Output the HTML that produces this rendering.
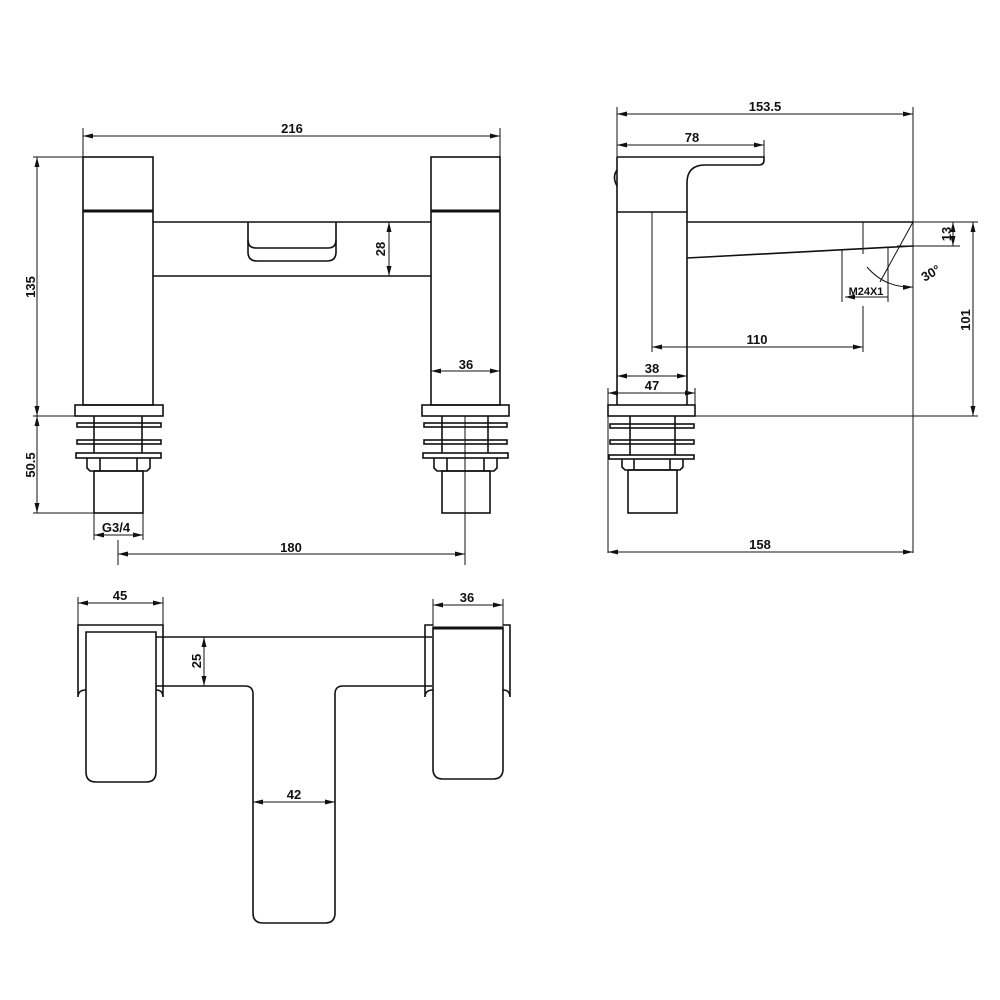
<!DOCTYPE html>
<html><head><style>html,body{margin:0;padding:0;background:#fff}svg{display:block}</style></head>
<body>
<svg width="1000" height="1000" viewBox="0 0 1000 1000" xmlns="http://www.w3.org/2000/svg">
<defs>
<marker id="a" markerWidth="10" markerHeight="6" refX="10" refY="3" orient="auto-start-reverse" markerUnits="userSpaceOnUse"><path d="M0,0.5 L10,3 L0,5.5 Z" fill="#111"/></marker>
</defs>
<g fill="none" stroke="#111" stroke-width="1.6">
<!-- FRONT VIEW -->
<rect x="83" y="157" width="70" height="248"/>
<rect x="431" y="157" width="69" height="248"/>
<line x1="83" y1="211" x2="153" y2="211" stroke-width="3"/>
<line x1="431" y1="211" x2="500" y2="211" stroke-width="3"/>
<line x1="153" y1="222" x2="431" y2="222"/>
<line x1="153" y1="276" x2="431" y2="276"/>
<path d="M248,222 V240 Q248,248 256,248 H328 Q336,248 336,240 V222"/>
<path d="M248,240 V252 Q248,261 257,261 H327 Q336,261 336,252 V240"/>
<!-- left fittings -->
<rect x="75" y="405" width="88" height="11"/>
<rect x="77" y="423" width="84" height="4"/>
<rect x="77" y="440" width="84" height="4"/>
<rect x="76" y="453" width="85" height="5"/>
<line x1="94" y1="416" x2="94" y2="453"/><line x1="142" y1="416" x2="142" y2="453"/>
<path d="M87,458 V468 L90,471 H147 L150,468 V458"/>
<line x1="100" y1="458" x2="100" y2="471"/><line x1="137" y1="458" x2="137" y2="471"/>
<rect x="94" y="471" width="49" height="42"/>
<!-- right fittings -->
<rect x="422" y="405" width="87" height="11"/>
<rect x="424" y="423" width="83" height="4"/>
<rect x="424" y="440" width="83" height="4"/>
<rect x="423" y="453" width="85" height="5"/>
<line x1="442" y1="416" x2="442" y2="453"/><line x1="488" y1="416" x2="488" y2="453"/>
<path d="M434,458 V468 L437,471 H494 L497,468 V458"/>
<line x1="447" y1="458" x2="447" y2="471"/><line x1="484" y1="458" x2="484" y2="471"/>
<rect x="442" y="471" width="48" height="42"/>

<!-- SIDE VIEW -->
<path d="M617,157 H764 V160 Q764,165 759,165 H705 Q687,165 687,183 V212"/>
<line x1="617" y1="157" x2="617" y2="405"/>
<path d="M617,170 Q612,177 617,186"/>
<line x1="617" y1="212" x2="687" y2="212"/>
<line x1="687" y1="212" x2="687" y2="405"/>
<line x1="687" y1="222" x2="913" y2="222"/>
<line x1="687" y1="258" x2="913" y2="246"/>
<rect x="608" y="405" width="87" height="11"/>
<rect x="610" y="424" width="84" height="4"/>
<rect x="610" y="440" width="84" height="4"/>
<rect x="609" y="455" width="85" height="4"/>
<line x1="630" y1="416" x2="630" y2="455"/><line x1="675" y1="416" x2="675" y2="455"/>
<path d="M622,459 V467 L625,470 H680 L683,467 V459"/>
<line x1="634" y1="459" x2="634" y2="470"/><line x1="670" y1="459" x2="670" y2="470"/>
<rect x="628" y="470" width="49" height="43"/>

<!-- TOP VIEW -->
<path d="M78,697 Q78,690 86,690 M78,697 V625 H163 V697 Q163,690 156,690"/>
<path d="M86,632 H156 V772 Q156,782 146,782 H96 Q86,782 86,772 Z"/>
<line x1="156" y1="637" x2="432" y2="637"/>
<path d="M156,686 H245 Q253,686 253,694 V913 Q253,923 263,923 H325 Q335,923 335,913 V694 Q335,686 343,686 H432"/>
<path d="M425,697 V625 H433 M503,625 H510 V697 M425,697 Q425,690 433,690 M510,697 Q510,690 503,690"/>
<path d="M433,628 H503 V769 Q503,779 493,779 H443 Q433,779 433,769 Z"/>
<line x1="433" y1="628" x2="503" y2="628" stroke-width="3"/>
</g>

<!-- dimension lines -->
<g fill="none" stroke="#111" stroke-width="1">
<!-- front -->
<line x1="83" y1="128" x2="83" y2="157"/><line x1="500" y1="128" x2="500" y2="157"/>
<line x1="83" y1="136" x2="500" y2="136" marker-start="url(#a)" marker-end="url(#a)"/>
<line x1="33" y1="157" x2="83" y2="157"/><line x1="33" y1="416" x2="163" y2="416"/>
<line x1="37" y1="157" x2="37" y2="416" marker-start="url(#a)" marker-end="url(#a)"/>
<line x1="33" y1="513" x2="94" y2="513"/>
<line x1="37" y1="416" x2="37" y2="513" marker-start="url(#a)" marker-end="url(#a)"/>
<line x1="389" y1="222" x2="389" y2="276" marker-start="url(#a)" marker-end="url(#a)"/>
<line x1="431" y1="371" x2="500" y2="371" marker-start="url(#a)" marker-end="url(#a)"/>
<line x1="94" y1="513" x2="94" y2="540"/><line x1="143" y1="513" x2="143" y2="540"/>
<line x1="94" y1="535" x2="143" y2="535" marker-start="url(#a)" marker-end="url(#a)"/>
<line x1="118" y1="540" x2="118" y2="565"/><line x1="465" y1="416" x2="465" y2="565"/>
<line x1="118" y1="554" x2="465" y2="554" marker-start="url(#a)" marker-end="url(#a)"/>
<!-- side -->
<line x1="617" y1="107" x2="617" y2="157"/><line x1="913" y1="107" x2="913" y2="553"/>
<line x1="617" y1="114" x2="913" y2="114" marker-start="url(#a)" marker-end="url(#a)"/>
<line x1="764" y1="140" x2="764" y2="157"/>
<line x1="617" y1="145" x2="764" y2="145" marker-start="url(#a)" marker-end="url(#a)"/>
<line x1="913" y1="222" x2="978" y2="222"/><line x1="897" y1="246" x2="960" y2="246"/>
<line x1="953" y1="222" x2="953" y2="246" marker-start="url(#a)" marker-end="url(#a)"/>
<line x1="973" y1="222" x2="973" y2="416" marker-start="url(#a)" marker-end="url(#a)"/>
<line x1="695" y1="416" x2="978" y2="416"/>
<line x1="652" y1="212" x2="652" y2="352"/>
<line x1="863" y1="222" x2="863" y2="254"/><line x1="863" y1="306" x2="863" y2="352"/>
<line x1="842" y1="250" x2="842" y2="302"/><line x1="888" y1="248" x2="888" y2="302"/>
<line x1="652" y1="347" x2="863" y2="347" marker-start="url(#a)" marker-end="url(#a)"/>
<line x1="845" y1="297" x2="888" y2="297" marker-start="url(#a)"/>
<line x1="913" y1="222" x2="880" y2="282"/>
<path d="M867,267 Q885,288 913,287" marker-end="url(#a)"/>
<line x1="617" y1="376" x2="687" y2="376" marker-start="url(#a)" marker-end="url(#a)"/>
<line x1="608" y1="388" x2="608" y2="553"/><line x1="695" y1="388" x2="695" y2="416"/>
<line x1="608" y1="393" x2="695" y2="393" marker-start="url(#a)" marker-end="url(#a)"/>
<line x1="608" y1="552" x2="913" y2="552" marker-start="url(#a)" marker-end="url(#a)"/>
<!-- top -->
<line x1="78" y1="597" x2="78" y2="625"/><line x1="163" y1="597" x2="163" y2="625"/>
<line x1="78" y1="603" x2="163" y2="603" marker-start="url(#a)" marker-end="url(#a)"/>
<line x1="433" y1="599" x2="433" y2="628"/><line x1="503" y1="599" x2="503" y2="628"/>
<line x1="433" y1="605" x2="503" y2="605" marker-start="url(#a)" marker-end="url(#a)"/>
<line x1="204" y1="637" x2="204" y2="686" marker-start="url(#a)" marker-end="url(#a)"/>
<line x1="253" y1="802" x2="335" y2="802" marker-start="url(#a)" marker-end="url(#a)"/>
</g>

<g font-family="Liberation Sans, sans-serif" font-weight="bold" font-size="13" fill="#111" text-anchor="middle">
<text x="292" y="133">216</text>
<text x="466" y="369">36</text>
<text x="116" y="532">G3/4</text>
<text x="291" y="552">180</text>
<text transform="translate(385,249) rotate(-90)">28</text>
<text transform="translate(35,287) rotate(-90)">135</text>
<text transform="translate(35,465) rotate(-90)">50.5</text>
<text x="765" y="111">153.5</text>
<text x="692" y="142">78</text>
<text x="757" y="344">110</text>
<text x="652" y="373">38</text>
<text x="652" y="390">47</text>
<text x="760" y="549">158</text>
<text x="866" y="295" font-size="11">M24X1</text>
<text transform="translate(933,277) rotate(-30)">30°</text>
<text transform="translate(951,234) rotate(-90)">13</text>
<text transform="translate(970,320) rotate(-90)">101</text>
<text x="120" y="600">45</text>
<text x="467" y="602">36</text>
<text transform="translate(201,661) rotate(-90)">25</text>
<text x="294" y="799">42</text>
</g>
</svg>
</body></html>
